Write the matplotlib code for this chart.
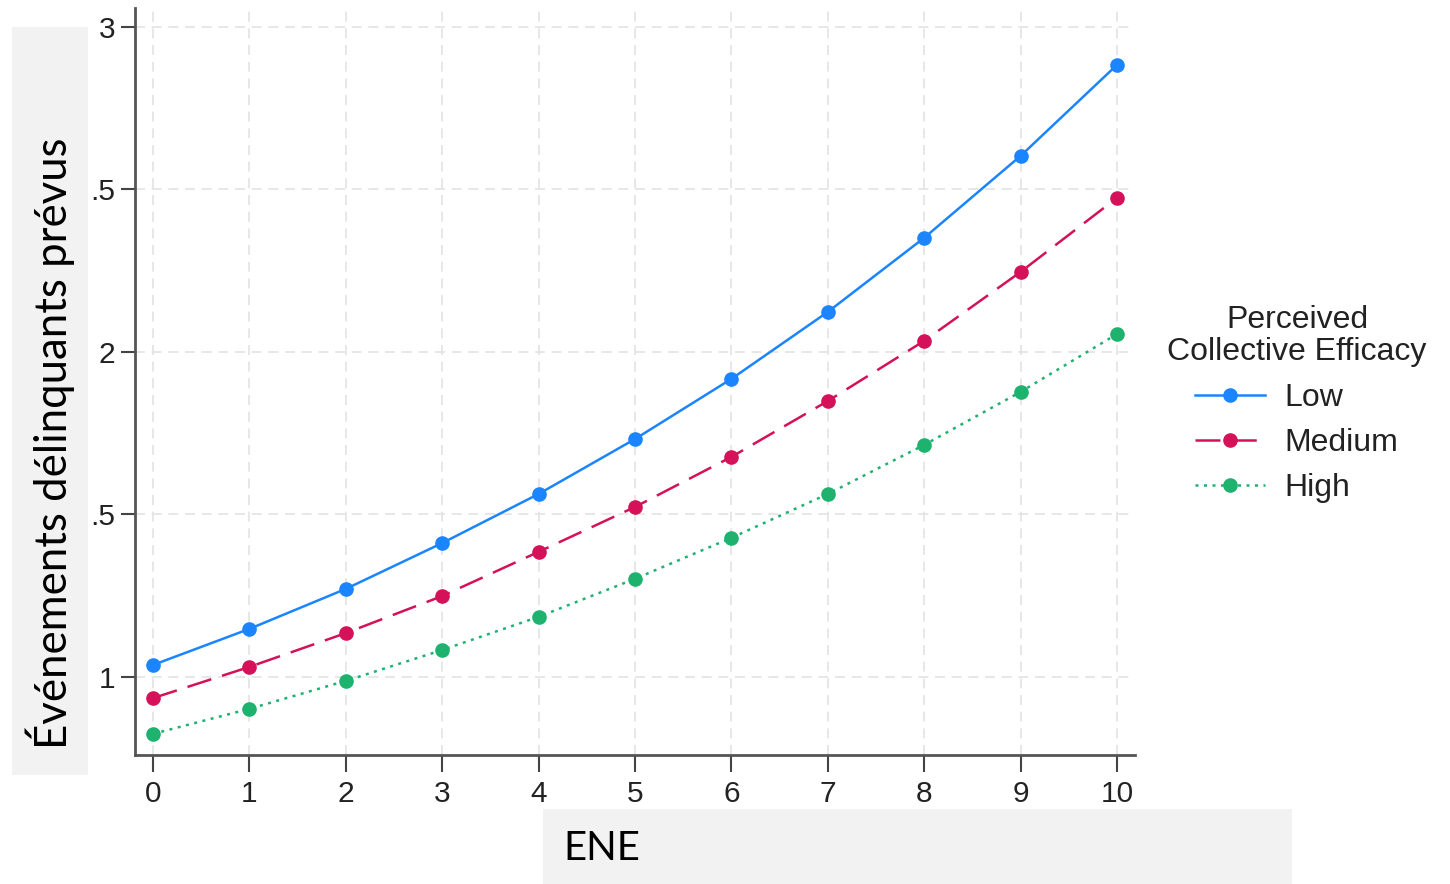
import matplotlib
matplotlib.use("Agg")
import matplotlib.pyplot as plt
from matplotlib.patches import Rectangle

ene = [0, 1, 2, 3, 4, 5, 6, 7, 8, 9, 10]
low = [1.037, 1.148, 1.271, 1.412, 1.563, 1.732, 1.917, 2.123, 2.351, 2.603, 2.883]
medium = [0.935, 1.031, 1.135, 1.249, 1.385, 1.523, 1.677, 1.849, 2.034, 2.246, 2.474]
high = [0.825, 0.902, 0.988, 1.083, 1.185, 1.302, 1.428, 1.563, 1.714, 1.877, 2.055]
series_names = ["Low", "Medium", "High"]
yticks = [1, 1.5, 2, 2.5, 3]
ytick_labels = ["1", ".5", "2", ".5", "3"]
legend_title = "Perceived\nCollective Efficacy"
ylabel = "Événements délinquants prévus"
xlabel = "ENE"

plt.rcParams['font.family'] = ['Liberation Sans', 'DejaVu Sans']

fig = plt.figure(figsize=(14.5, 8.84), dpi=100)
ax = fig.add_axes([135/1450, (884-755)/884, (1135-135)/1450, (755-8)/884])

colors = ["#1a85ff", "#d41159", "#1db36f"]
styles = ["-", (0, (10, 4.5)), (0, (1.2, 2.2))]
for vals, name, c, ls in zip([low, medium, high], series_names, colors, styles):
    ax.plot(ene, vals, color=c, linestyle=ls, linewidth=1.8, marker='o',
            markersize=9.5, label=name, zorder=3)

ax.set_xlim(-0.187, 10.187)
ax.set_ylim(0.76, 3.058)
ax.set_xticks(ene)
ax.set_xticklabels([str(v) for v in ene])
ax.set_yticks(yticks)
ax.set_yticklabels(ytick_labels)
ax.tick_params(axis='both', labelsize=21.5, color='#444444', width=1.5, labelcolor='#222222')
ax.tick_params(axis='y', length=10, pad=4)
ax.tick_params(axis='x', length=12, pad=6)
ax.grid(True, color='#e3e3e3', linestyle=(0, (6, 4)), linewidth=1.2, zorder=0)
for s in ['top', 'right']:
    ax.spines[s].set_visible(False)
for s in ['left', 'bottom']:
    ax.spines[s].set_color('#555555')
    ax.spines[s].set_linewidth(2)

# Legend title and entries
fig.text(1297/1450, 1 - 336/884, legend_title, ha='center', va='center',
         fontsize=23, color='#222222', linespacing=1.12, multialignment='center')
leg = fig.legend(loc='upper left', bbox_to_anchor=(1195/1450, 1 - 383/884),
                 frameon=False, fontsize=23, borderpad=0, borderaxespad=0,
                 handlelength=2.2, handletextpad=0.6, labelspacing=0.47)
for t in leg.get_texts():
    t.set_color('#222222')

# Gray label boxes
fig.patches.append(Rectangle((12/1450, 1 - 775/884), 76/1450, 748/884,
                             transform=fig.transFigure, facecolor='#f2f2f2',
                             edgecolor='none', zorder=5))
fig.text(50/1450, 1 - 443/884, ylabel, rotation=90, ha='center', va='center',
         fontsize=31.5, family=['Lato', 'DejaVu Sans'], zorder=6)
fig.patches.append(Rectangle((543/1450, 0), (1292-543)/1450, 75/884,
                             transform=fig.transFigure, facecolor='#f2f2f2',
                             edgecolor='none', zorder=5))
fig.text(563/1450, 1 - 848/884, xlabel, ha='left', va='center',
         fontsize=29, family=['Lato', 'DejaVu Sans'], zorder=6)

fig.savefig("out.png", dpi=100)
